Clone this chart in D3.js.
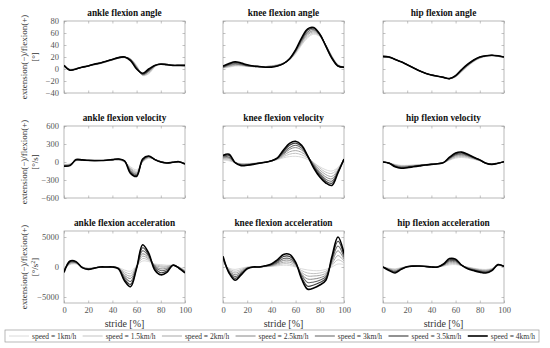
<!DOCTYPE html>
<style>
    body { margin: 0; background: #fff; }
    svg text { font-family: "Liberation Serif", "DejaVu Serif", serif; }
    .axis .domain { display: none; }
    .axis line { stroke: #9a9a9a; stroke-width: 0.6; }
    .axis text { fill: #555; font-size: 8.5px; font-family: "Liberation Serif", serif; }
</style>
<svg width="550" height="348"></svg>

<script src="https://cdn.jsdelivr.net/npm/d3@7"></script>
<script>
    // stride positions [%]
    var stride = [0, 5, 10, 15, 20, 25, 30, 35, 40, 45, 50, 55, 60, 65, 70, 75, 80, 85, 90, 95, 100];
    var speeds = ["1km/h", "1.5km/h", "2km/h", "2.5km/h", "3km/h", "3.5km/h", "4km/h"];
    var strideTicks = [0, 20, 40, 60, 80, 100];

    // one row per speed, slowest first
    var ankleAngle = [
        [4, 0, 1, 3, 5, 7, 9, 12, 15, 18, 19, 17, 6, -11, -8, 3, 9, 8, 6, 6, 5],
        [4, -1, 1, 3, 5, 7, 9, 12, 15, 18, 19, 17, 5, -10, -7, 4, 9, 8, 6, 6, 5],
        [5, -1, 0, 3, 5, 7, 9, 12, 15, 18, 20, 16, 4, -10, -5, 5, 9, 8, 6, 6, 5],
        [5, -2, 0, 3, 5, 8, 10, 13, 16, 19, 20, 16, 3, -9, -4, 5, 9, 8, 6, 6, 6],
        [5, -2, 0, 3, 5, 8, 10, 13, 16, 19, 20, 15, 2, -9, -3, 6, 9, 8, 6, 6, 6],
        [6, -2, 0, 3, 5, 8, 10, 13, 16, 19, 20, 15, 1, -8, -2, 6, 8, 7, 6, 6, 6],
        [6, -2, 0, 3, 5, 8, 10, 13, 16, 19, 20, 14, 0, -7, 0, 6, 8, 7, 6, 6, 6]
    ];
    var kneeAngle = [
        [1, 3, 5, 5, 4, 4, 4, 4, 5, 7, 10, 15, 25, 40, 52, 58, 54, 40, 22, 8, 3],
        [2, 4, 6, 6, 5, 4, 4, 4, 5, 7, 10, 16, 27, 42, 54, 60, 55, 40, 21, 7, 3],
        [2, 5, 7, 7, 5, 4, 4, 4, 5, 6, 10, 16, 28, 44, 57, 62, 56, 40, 20, 6, 3],
        [3, 6, 8, 7, 5, 4, 4, 3, 4, 6, 9, 16, 29, 46, 59, 64, 57, 40, 20, 6, 3],
        [3, 7, 9, 8, 6, 5, 4, 3, 4, 6, 9, 16, 30, 48, 62, 66, 57, 39, 19, 5, 3],
        [4, 8, 11, 9, 6, 5, 4, 3, 4, 5, 9, 17, 31, 50, 65, 68, 58, 38, 18, 5, 3],
        [5, 9, 12, 10, 7, 5, 4, 3, 3, 5, 9, 17, 32, 52, 67, 69, 58, 38, 18, 5, 3]
    ];
    var hipAngle = [
        [19, 19, 16, 12, 7, 2, -3, -7, -10, -12, -14, -16, -13, -5, 4, 12, 18, 21, 22, 21, 19],
        [19, 19, 16, 12, 7, 2, -3, -7, -10, -12, -14, -16, -13, -4, 5, 13, 18, 21, 22, 21, 19],
        [20, 19, 16, 12, 7, 2, -3, -7, -10, -12, -14, -16, -12, -3, 6, 13, 19, 22, 23, 21, 20],
        [20, 20, 16, 12, 7, 2, -3, -7, -10, -12, -14, -16, -12, -3, 6, 14, 19, 22, 23, 21, 20],
        [20, 20, 16, 12, 7, 2, -3, -7, -10, -12, -14, -16, -12, -2, 7, 14, 19, 22, 23, 22, 20],
        [21, 20, 16, 12, 7, 2, -3, -7, -10, -12, -14, -16, -11, -1, 7, 15, 20, 22, 23, 22, 20],
        [21, 20, 16, 12, 7, 2, -3, -7, -10, -12, -14, -16, -11, -1, 8, 15, 20, 22, 23, 22, 20]
    ];

    var ankleVel = [
        [-40, -30, 20, 25, 20, 20, 22, 25, 30, 30, 0, -80, -130, 0, 60, 45, 10, -10, -5, 5, -20],
        [-45, -35, 25, 27, 22, 22, 23, 27, 33, 35, 5, -100, -155, 5, 70, 45, 10, -10, -5, 5, -22],
        [-50, -40, 28, 28, 23, 22, 24, 28, 35, 38, 8, -115, -175, 10, 75, 45, 8, -12, -5, 5, -25],
        [-55, -45, 30, 30, 24, 23, 24, 28, 36, 42, 12, -135, -195, 20, 85, 45, 6, -13, -5, 5, -28],
        [-60, -50, 33, 32, 25, 24, 25, 29, 37, 45, 15, -150, -210, 25, 90, 42, 4, -15, -5, 5, -30],
        [-65, -55, 36, 33, 26, 24, 25, 30, 38, 48, 18, -170, -225, 35, 95, 42, 2, -16, -5, 5, -32],
        [-70, -60, 40, 35, 28, 25, 25, 30, 40, 50, 20, -190, -240, 50, 100, 40, 0, -17, -5, 5, -35]
    ];
    var kneeVel = [
        [30, 20, -10, -25, -25, -20, -10, 0, 15, 40, 70, 90, 95, 80, 40, -20, -80, -130, -150, -90, 40],
        [45, 35, -10, -30, -30, -25, -12, 0, 16, 45, 90, 130, 145, 120, 65, -10, -100, -170, -190, -110, 42],
        [60, 55, -10, -35, -35, -28, -14, -2, 17, 50, 110, 170, 190, 160, 85, -30, -130, -210, -240, -130, 44],
        [70, 70, -10, -40, -40, -30, -16, -3, 18, 55, 130, 210, 240, 200, 90, -45, -160, -250, -280, -145, 45],
        [85, 85, -10, -45, -45, -33, -18, -4, 19, 60, 150, 240, 280, 230, 95, -60, -190, -290, -320, -160, 47],
        [100, 110, -10, -55, -50, -36, -19, -5, 20, 65, 175, 280, 315, 260, 100, -80, -220, -320, -355, -170, 48],
        [110, 130, -10, -60, -55, -40, -20, -5, 20, 70, 200, 310, 345, 280, 100, -100, -250, -350, -390, -180, 50]
    ];
    var hipVel = [
        [0, -15, -40, -55, -55, -50, -45, -40, -35, -25, -10, 30, 65, 75, 65, 45, 20, -15, -35, -20, 5],
        [0, -16, -47, -63, -62, -55, -48, -42, -36, -26, -10, 38, 80, 90, 78, 52, 22, -16, -36, -20, 5],
        [0, -17, -53, -72, -68, -60, -52, -44, -37, -27, -10, 45, 95, 105, 90, 58, 25, -17, -37, -20, 5],
        [0, -18, -60, -80, -75, -65, -55, -46, -38, -28, -10, 55, 110, 120, 100, 64, 28, -18, -38, -20, 5],
        [0, -18, -66, -88, -82, -70, -58, -47, -39, -28, -10, 62, 122, 135, 110, 70, 30, -19, -39, -20, 5],
        [0, -19, -73, -97, -88, -75, -62, -48, -40, -29, -10, 70, 136, 150, 120, 75, 33, -20, -40, -20, 5],
        [0, -20, -80, -105, -95, -80, -65, -50, -40, -30, -10, 80, 150, 165, 130, 80, 35, -20, -40, -20, 5]
    ];

    var ankleAcc = [
        [-300, 400, 500, 0, -200, -100, 0, 0, 0, -100, -500, -700, 200, 1000, 900, 500, 400, 300, 300, 0, -500],
        [-400, 500, 600, 0, -230, -120, 0, 0, 0, -130, -800, -1100, 150, 1400, 1100, 400, 200, 150, 300, -30, -580],
        [-500, 600, 650, 0, -260, -140, 0, 0, 0, -160, -1100, -1500, 100, 1800, 1300, 300, 0, 0, 300, -60, -660],
        [-550, 700, 700, -20, -290, -150, 0, 0, 0, -190, -1400, -1900, 0, 2200, 1500, 200, -300, -200, 300, -90, -740],
        [-650, 800, 750, -40, -320, -170, 0, 0, 0, -220, -1700, -2400, -100, 2700, 1800, 50, -600, -400, 300, -120, -820],
        [-750, 900, 800, -70, -360, -190, 0, 0, 0, -260, -2000, -2900, -150, 3200, 2000, -200, -950, -650, 300, -160, -910],
        [-900, 1000, 900, -100, -400, -200, 0, 0, 0, -300, -2300, -3300, -200, 3700, 2300, -500, -1300, -900, 300, -200, -1000]
    ];
    var kneeAcc = [
        [600, -200, -400, -200, 0, 0, 0, 50, 100, 200, 300, 250, 0, -300, -500, -600, -600, -400, 0, 500, 400],
        [800, -300, -700, -400, -50, 0, 0, 70, 150, 350, 550, 500, 100, -600, -1000, -1100, -1000, -700, 250, 1200, 700],
        [1000, -450, -1000, -600, -100, 0, 0, 90, 200, 500, 800, 800, 250, -900, -1500, -1500, -1400, -1000, 500, 1900, 1000],
        [1200, -600, -1300, -800, -150, 0, 0, 110, 280, 650, 1100, 1100, 400, -1200, -2000, -2000, -1800, -1300, 800, 2700, 1300],
        [1400, -750, -1600, -1000, -200, 0, 0, 140, 350, 800, 1400, 1400, 550, -1400, -2600, -2500, -2200, -1600, 1100, 3500, 1600],
        [1600, -880, -1900, -1150, -250, 0, 0, 170, 420, 1000, 1750, 1750, 700, -1700, -3200, -3000, -2600, -1900, 1400, 4300, 1950],
        [1800, -1000, -2200, -1300, -300, 0, 0, 200, 500, 1200, 2100, 2100, 800, -2000, -3700, -3500, -3000, -2200, 1700, 5000, 2300]
    ];
    var hipAcc = [
        [0, -200, -300, -100, 50, 100, 100, 50, 0, 0, 150, 350, 400, 200, 0, -200, -350, -400, -250, 200, 100],
        [0, -260, -420, -150, 50, 110, 110, 60, 0, 0, 210, 520, 550, 220, -50, -270, -440, -500, -310, 230, 100],
        [0, -320, -540, -200, 50, 120, 120, 70, 0, 0, 270, 700, 700, 240, -100, -330, -520, -600, -370, 270, 100],
        [0, -380, -650, -250, 50, 130, 130, 75, 0, 0, 330, 870, 850, 260, -150, -400, -600, -700, -430, 300, 100],
        [0, -440, -770, -300, 50, 135, 140, 80, 0, 0, 390, 1050, 1000, 270, -200, -470, -690, -800, -480, 330, 100],
        [0, -500, -880, -350, 50, 140, 155, 90, 0, 0, 440, 1220, 1150, 290, -250, -530, -770, -900, -540, 370, 100],
        [0, -570, -1000, -400, 50, 150, 170, 100, 0, 0, 500, 1400, 1300, 300, -300, -600, -850, -1000, -600, 400, 100]
    ];

    var rows = [
        { quantity: "angle", unit: "[°]", domain: [-40, 80], ticks: [-40, -20, 0, 20, 40, 60, 80], data: [ankleAngle, kneeAngle, hipAngle] },
        { quantity: "velocity", unit: "[°/s]", domain: [-600, 600], ticks: [-600, -300, 0, 300, 600], data: [ankleVel, kneeVel, hipVel] },
        { quantity: "acceleration", unit: "[°/s", domain: [-6000, 6000], ticks: [-5000, 0, 5000], data: [ankleAcc, kneeAcc, hipAcc] }
    ];
    var joints = ["ankle", "knee", "hip"];

    var colors = ["#d6d6d6", "#bcbcbc", "#a2a2a2", "#868686", "#666666", "#3f3f3f", "#000000"];
    var widths = [0.9, 0.9, 0.95, 1, 1.05, 1.15, 1.6];

    var svg = d3.select("svg");
    var colX = [64, 223, 383], rowY = [21, 126, 231];
    var pw = 121, ph = 72;

    var x = d3.scaleLinear().domain([0, 100]).range([0, pw]);

    rows.forEach(function (row, r) {
        var y = d3.scaleLinear().domain(row.domain).range([ph, 0]);
        var line = d3.line()
            .x(function (d, i) { return x(stride[i]); })
            .y(function (d) { return y(d); })
            .curve(d3.curveCatmullRom);

        joints.forEach(function (joint, c) {
            var g = svg.append("g").attr("transform", "translate(" + colX[c] + "," + rowY[r] + ")");
            var id = "clip" + r + c;
            g.append("clipPath").attr("id", id)
                .append("rect").attr("width", pw).attr("height", ph);

            g.append("g").attr("class", "axis")
                .call(d3.axisLeft(y).tickValues(row.ticks).tickSize(-2.5).tickPadding(5)
                    .tickFormat(c === 0 ? d3.format("d") : ""));
            g.append("g").attr("class", "axis").attr("transform", "translate(" + pw + ",0)")
                .call(d3.axisRight(y).tickValues(row.ticks).tickSize(-2.5).tickFormat(""));
            g.append("g").attr("class", "axis")
                .call(d3.axisTop(x).tickValues(strideTicks).tickSize(-2.5).tickFormat(""));
            g.append("g").attr("class", "axis").attr("transform", "translate(0," + ph + ")")
                .call(d3.axisBottom(x).tickValues(strideTicks).tickSize(-2.5).tickPadding(4)
                    .tickFormat(r === 2 ? d3.format("d") : ""));

            g.append("rect")
                .attr("width", pw).attr("height", ph)
                .attr("fill", "none").attr("stroke", "#9a9a9a").attr("stroke-width", 0.7);

            g.append("g").attr("clip-path", "url(#" + id + ")")
                .selectAll("path")
                .data(row.data[c])
                .enter().append("path")
                .attr("d", line)
                .attr("fill", "none")
                .attr("stroke", function (d, i) { return colors[i]; })
                .attr("stroke-width", function (d, i) { return widths[i]; });

            g.append("text")
                .attr("x", pw / 2).attr("y", -5)
                .attr("text-anchor", "middle")
                .attr("font-size", 9.3).attr("font-weight", "bold")
                .attr("fill", "#111")
                .text(joint + " flexion " + row.quantity);

            if (r === 2) {
                g.append("text")
                    .attr("x", pw / 2).attr("y", ph + 24)
                    .attr("text-anchor", "middle")
                    .attr("font-size", 10).attr("fill", "#333")
                    .text("stride [%]");
            }
        });

        // y label
        var cy = rowY[r] + ph / 2;
        svg.append("text")
            .attr("transform", "translate(27," + cy + ") rotate(-90)")
            .attr("text-anchor", "middle")
            .attr("font-size", 9).attr("fill", "#333")
            .text("extension(\u2212)/flexion(+)");
        var u = svg.append("text")
            .attr("transform", "translate(38," + cy + ") rotate(-90)")
            .attr("text-anchor", "middle")
            .attr("font-size", 9).attr("fill", "#333")
            .text(row.unit);
        if (r === 2) {
            u.append("tspan").attr("baseline-shift", "super").attr("font-size", 6).text("2");
            u.append("tspan").text("]");
        }
    });

    // legend
    var lgW = 534;
    var lg = svg.append("g").attr("transform", "translate(5,330)");
    lg.append("rect")
        .attr("width", lgW).attr("height", 12)
        .attr("fill", "#fff").attr("stroke", "#9a9a9a").attr("stroke-width", 0.7);
    var items = speeds.map(function (s, i) {
        var it = lg.append("g");
        it.append("line")
            .attr("x1", 0).attr("x2", 20).attr("y1", 6).attr("y2", 6)
            .attr("stroke", colors[i]).attr("stroke-width", widths[i]);
        var t = it.append("text")
            .attr("x", 23).attr("y", 8.8)
            .attr("font-size", 7.5).attr("fill", "#333")
            .text("speed = " + s);
        return { g: it, w: 23 + t.node().getComputedTextLength() };
    });
    var used = d3.sum(items, function (d) { return d.w; });
    var gap = (lgW - 8 - used) / (items.length - 1);
    var lx = 4;
    items.forEach(function (d) {
        d.g.attr("transform", "translate(" + lx + ",0)");
        lx += d.w + gap;
    });
</script>
